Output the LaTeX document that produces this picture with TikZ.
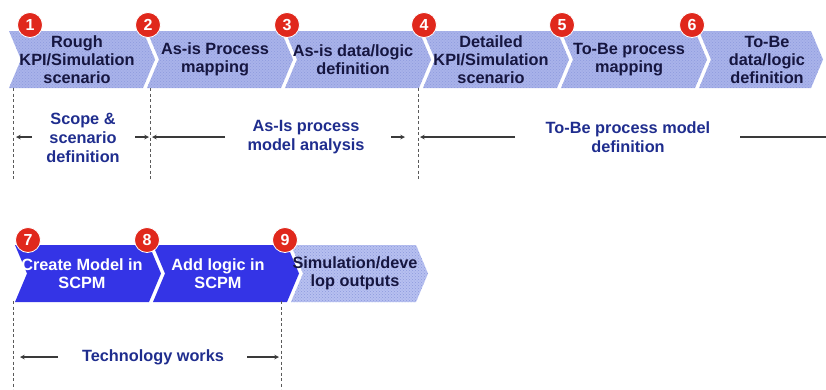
\documentclass[tikz,border=0pt]{standalone}
\usepackage{fontspec}
\setmainfont{Liberation Sans}
\usetikzlibrary{patterns,calc}

\definecolor{chevblue}{HTML}{A9B3EA}
\definecolor{chevdot}{HTML}{8D9ADD}
\definecolor{chevlight}{HTML}{B7C0F0}
\definecolor{chevdeep}{HTML}{3434E6}
\definecolor{badgered}{HTML}{E0281C}
\definecolor{navytext}{HTML}{161640}
\definecolor{labelblue}{HTML}{1F2D8E}
\definecolor{guidegray}{HTML}{5A5A5A}
\definecolor{arrowgray}{HTML}{3A3A3A}

\tikzset{
  chevpale/.style={fill=chevblue, postaction={pattern=crosshatch dots, pattern color=chevdot}},
  chevfaint/.style={fill=chevlight, postaction={pattern=crosshatch dots, pattern color=chevdot}},
  chevsolid/.style={fill=chevdeep},
  tasktext/.style={align=center, text=navytext, inner sep=0pt,
    font=\bfseries\fontsize{16.3}{18}\selectfont},
  badge/.style={circle, fill=badgered, draw=white, line width=0.8pt,
    minimum size=25pt, inner sep=0pt, text=white,
    font=\bfseries\fontsize{16}{16}\selectfont},
  phase/.style={align=center, text=labelblue, inner sep=1pt,
    font=\bfseries\fontsize{16.3}{19}\selectfont},
  guide/.style={guidegray, line width=0.9pt, dash pattern=on 3pt off 2.5pt},
  span/.style={arrowgray, line width=1.1pt, ->},
}

% chevron: x0, top, width, style
\newcommand{\chevron}[4]{%
  \fill[#4] (#1,#2) -- ++(#3,0) -- ++(12,28.5) -- ++(-12,28.5)
    -- ++(-#3,0) -- ++(12,-28.5) -- cycle;}

\begin{document}
\begin{tikzpicture}[x=1pt,y=-1pt,>=stealth]
\useasboundingbox (0,0) rectangle (826,389);

% first row
\foreach \n/\x/\w/\bx/\t in {1/9/134/30/{Rough\\KPI/Simulation\\scenario},
    2/147/134/148/{As-is Process\\mapping},
    3/285/134/287/{As-is data/logic\\definition},
    4/423/134/424/{Detailed\\KPI/Simulation\\scenario},
    5/561/134/562/{To-Be process\\mapping},
    6/699/112/692/{To-Be\\data/logic\\definition}} {
  \chevron{\x}{31}{\w}{chevpale}
  \node[tasktext] (task\n) at (\x+68,59.5) {\t};
  \node[badge] (num\n) at (\bx,25) {\n};
}

% second row
\chevron{15}{245}{134}{chevsolid}
\chevron{153}{245}{134}{chevsolid}
\chevron{291}{245}{125}{chevfaint}
\node[tasktext,text=white] (task7) at (82,273.5) {Create Model in\\SCPM};
\node[tasktext,text=white] (task8) at (218,273.5) {Add logic in\\SCPM};
\node[tasktext] (task9) at (355,273.5) {Simulation/deve\\lop outputs};
\node[badge] (num7) at (28,240) {7};
\node[badge] (num8) at (147,240) {8};
\node[badge] (num9) at (285,240) {9};

% phase guides
\coordinate (g1) at (13,137);
\coordinate (g2) at (150,137);
\coordinate (g4) at (418,137);
\coordinate (g7) at (13,357);
\coordinate (g9) at (281,357);
\draw[guide] (13,88) -- (13,180);
\draw[guide] (150,88) -- (150,180);
\draw[guide] (418,88) -- (418,180);
\draw[guide] (13,301) -- (13,389);
\draw[guide] (281,301) -- (281,389);

% phase labels
\node[phase] (scope) at (83,138) {Scope \&\\scenario\\definition};
\node[phase] (asis) at (306,137) {As-Is process\\model analysis};
\node[phase] (tobe) at (628,137) {To-Be process model\\definition};
\node[phase] (tech) at (153,357) {Technology works};

\coordinate (a1) at (32,137);
\coordinate (a2) at (135,137);
\coordinate (a3) at (225,137);
\coordinate (a4) at (391,137);
\coordinate (a5) at (515,137);
\coordinate (a6) at (740,137);
\coordinate (a7) at (826,137);
\coordinate (a8) at (58,357);
\coordinate (a9) at (247,357);
\draw[span] (a1) -- ([xshift=3pt]g1);
\draw[span] (a2) -- ([xshift=-1pt]g2);
\draw[span] (a3) -- ([xshift=2pt]g2);
\draw[span] (a4) -- ([xshift=-13pt]g4);
\draw[span] (a5) -- ([xshift=2pt]g4);
\draw[arrowgray, line width=1.1pt] (a6) -- (a7);
\draw[span] (a8) -- ([xshift=7pt]g7);
\draw[span] (a9) -- ([xshift=-2pt]g9);
\end{tikzpicture}
\end{document}
